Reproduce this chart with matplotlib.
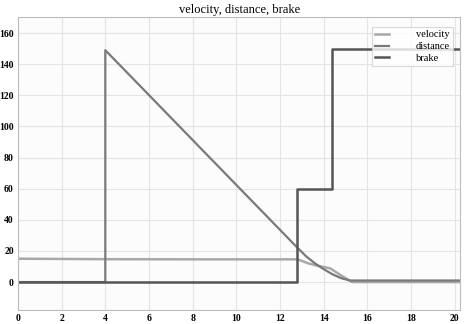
import matplotlib.pyplot as plt

# data
t_vel = [0, 4, 8, 12.8, 13.3, 13.8, 14.3, 14.8, 15.3, 20.2]
velocity = [15, 14.7, 14.6, 14.6, 12.0, 10.2, 8.8, 4.2, 0, 0]

t_dist = [0, 4, 4, 12.8, 13.2, 13.6, 14.0, 14.4, 14.8, 15.2, 20.2]
distance = [0, 0, 149, 22, 16.5, 12, 8.3, 5, 2.5, 1, 1]

t_brake = [0, 12.8, 12.8, 14.4, 14.4, 20.2]
brake = [0, 0, 60, 60, 150, 150]

xticks = list(range(0, 21, 2))
yticks = list(range(0, 161, 20))

plt.rcParams['font.family'] = ['Liberation Serif', 'DejaVu Serif']

fig = plt.figure(figsize=(4.72, 3.24), dpi=100)
ax = fig.add_axes([0.038, 0.043, 0.937, 0.903])
ax.set_facecolor('#fcfcfc')

ax.plot(t_vel, velocity, color='#a8a8a8', lw=1.8, label='velocity')
ax.plot(t_dist, distance, color='#7a7a7a', lw=1.6, label='distance')
ax.plot(t_brake, brake, color='#555555', lw=1.8, label='brake')

ax.set_xlim(0, 20.25)
ax.set_ylim(-18, 170)
ax.set_xticks(xticks)
ax.set_yticks(yticks)
ax.grid(True, color='#e4e4e4', lw=0.8)
ax.tick_params(labelsize=7, length=0, pad=3)
for lab in ax.get_xticklabels() + ax.get_yticklabels():
    lab.set_fontweight('bold')
for s in ax.spines.values():
    s.set_color('#bdbdbd')
    s.set_linewidth(0.8)

ax.set_title('velocity, distance, brake', fontsize=9, pad=3)

leg = ax.legend(loc='upper right', bbox_to_anchor=(0.984, 0.968), fontsize=7.5,
                handlelength=1.3, handletextpad=2.6, frameon=True, fancybox=False,
                borderpad=0.3, labelspacing=0.25, borderaxespad=0)
leg.get_frame().set_edgecolor('#cfcfcf')
leg.get_frame().set_linewidth(0.8)

plt.savefig('out.png', dpi=100)
